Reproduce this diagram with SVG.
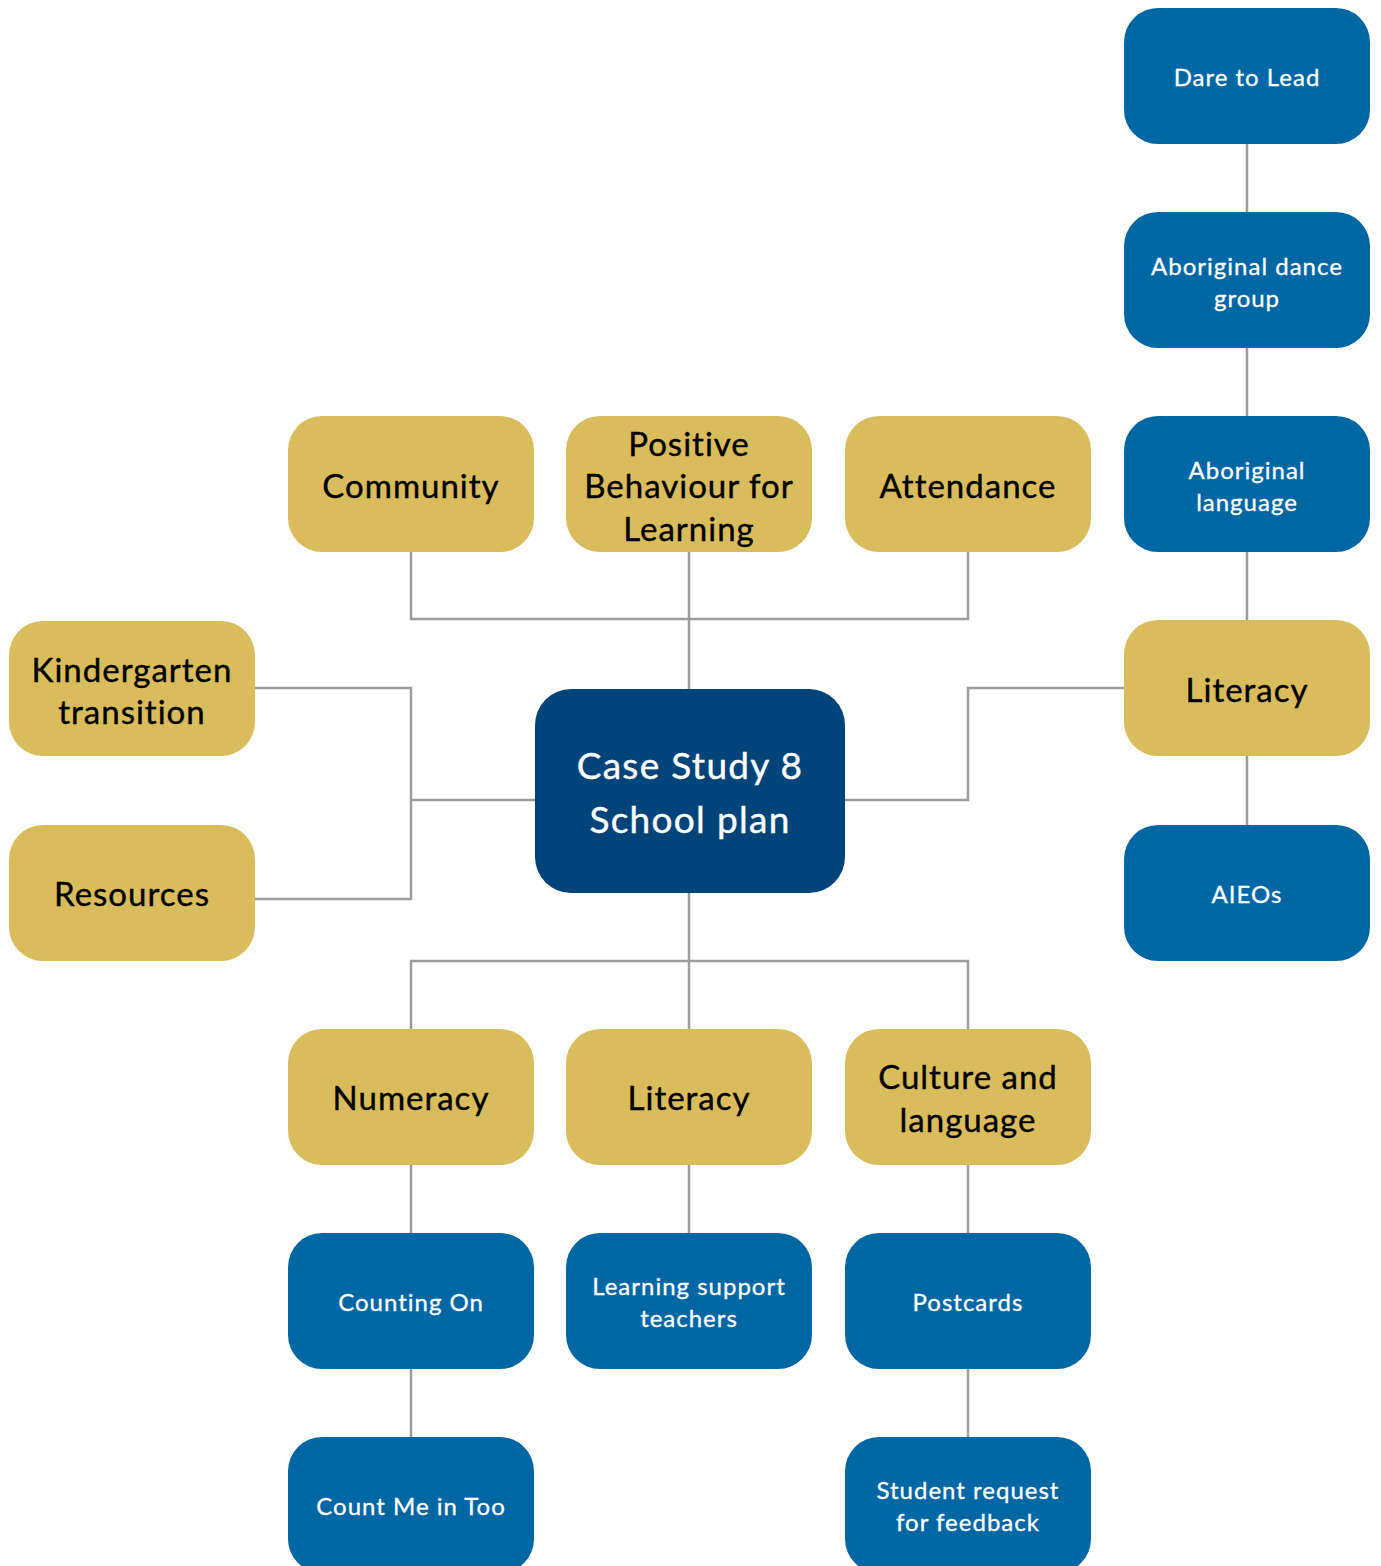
<svg xmlns="http://www.w3.org/2000/svg" width="1381" height="1566" viewBox="0 0 1381 1566">
<style>
.g rect{fill:#D9BD5D}
.b rect{fill:#0067A5}
.c rect{fill:#00447A}
.g text{fill:#000;stroke:#000;stroke-width:0.4;font-family:Lato,"Noto Sans",sans-serif;font-size:33px;letter-spacing:1px;text-anchor:middle}
.b text{fill:#fff;stroke:#fff;stroke-width:0.3;font-family:Lato,"Noto Sans",sans-serif;font-size:24px;letter-spacing:1px;text-anchor:middle}
.c text{fill:#fff;stroke:#fff;stroke-width:0.4;font-family:Lato,"Noto Sans",sans-serif;font-size:37px;letter-spacing:1.3px;text-anchor:middle}
.conn path{fill:none;stroke:#9B9BA0;stroke-width:2.5}
</style>
<rect width="1381" height="1566" fill="#fff"/>
<g class="conn">
<path d="M411 552V619H968V552M689 552V689"/>
<path d="M255 688H411V899H255M411 800H535"/>
<path d="M845 800H968V688H1124"/>
<path d="M1247 144V212M1247 348V416M1247 552V620M1247 756V825"/>
<path d="M689 893V1029M411 1029V961H968V1029"/>
<path d="M411 1165V1233M411 1369V1437M689 1165V1233M968 1165V1233M968 1369V1437"/>
</g>
<g id="dare" class="b"><rect x="1124" y="8" width="246" height="136" rx="34"/><text x="1247" y="86">Dare to Lead</text></g>
<g id="dance" class="b"><rect x="1124" y="212" width="246" height="136" rx="34"/><text x="1247" y="275">Aboriginal dance</text><text x="1247" y="307">group</text></g>
<g id="ablang" class="b"><rect x="1124" y="416" width="246" height="136" rx="34"/><text x="1247" y="479">Aboriginal</text><text x="1247" y="511">language</text></g>
<g id="literacyR" class="g"><rect x="1124" y="620" width="246" height="136" rx="34"/><text x="1247" y="702">Literacy</text></g>
<g id="aieos" class="b"><rect x="1124" y="825" width="246" height="136" rx="34"/><text x="1247" y="903">AIEOs</text></g>
<g id="community" class="g"><rect x="288" y="416" width="246" height="136" rx="34"/><text x="411" y="498">Community</text></g>
<g id="pbl" class="g"><rect x="566" y="416" width="246" height="136" rx="34"/><text x="689" y="456">Positive</text><text x="689" y="498">Behaviour for</text><text x="689" y="541">Learning</text></g>
<g id="attendance" class="g"><rect x="845" y="416" width="246" height="136" rx="34"/><text x="968" y="498">Attendance</text></g>
<g id="kinder" class="g"><rect x="9" y="621" width="246" height="135" rx="34"/><text x="132" y="682">Kindergarten</text><text x="132" y="724">transition</text></g>
<g id="resources" class="g"><rect x="9" y="825" width="246" height="136" rx="34"/><text x="132" y="906">Resources</text></g>
<g id="center" class="c"><rect x="535" y="689" width="310" height="204" rx="36"/><text x="690" y="779">Case Study 8</text><text x="690" y="833">School plan</text></g>
<g id="numeracy" class="g"><rect x="288" y="1029" width="246" height="136" rx="34"/><text x="411" y="1110">Numeracy</text></g>
<g id="literacyB" class="g"><rect x="566" y="1029" width="246" height="136" rx="34"/><text x="689" y="1110">Literacy</text></g>
<g id="culture" class="g"><rect x="845" y="1029" width="246" height="136" rx="34"/><text x="968" y="1089">Culture and</text><text x="968" y="1132">language</text></g>
<g id="countingon" class="b"><rect x="288" y="1233" width="246" height="136" rx="34"/><text x="411" y="1311">Counting On</text></g>
<g id="lst" class="b"><rect x="566" y="1233" width="246" height="136" rx="34"/><text x="689" y="1295">Learning support</text><text x="689" y="1327">teachers</text></g>
<g id="postcards" class="b"><rect x="845" y="1233" width="246" height="136" rx="34"/><text x="968" y="1311">Postcards</text></g>
<g id="countme" class="b"><rect x="288" y="1437" width="246" height="136" rx="34"/><text x="411" y="1515">Count Me in Too</text></g>
<g id="feedback" class="b"><rect x="845" y="1437" width="246" height="136" rx="34"/><text x="968" y="1499">Student request</text><text x="968" y="1531">for feedback</text></g>
</svg>
